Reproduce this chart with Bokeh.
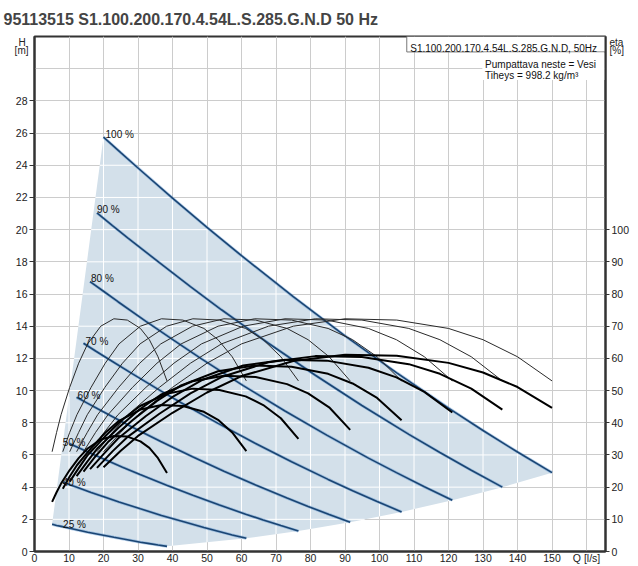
from bokeh.plotting import figure
from bokeh.models import Range1d, LinearAxis, FixedTicker, Label, ColumnDataSource
from bokeh.core.properties import value
from bokeh.embed import file_html
from bokeh.resources import INLINE

TITLE = "95113515 S1.100.200.170.4.54L.S.285.G.N.D 50 Hz"
BOX_TEXT = "S1.100.200.170.4.54L.S.285.G.N.D, 50Hz"
INFO_1 = "Pumpattava neste = Vesi"
INFO_2 = "Tiheys = 998.2 kg/m³"
SPEED_LABELS = ["25 %", "40 %", "50 %", "60 %", "70 %", "80 %", "90 %", "100 %"]

# flow Q [l/s] and head H [m] along each speed curve
Q_25 = [5.1, 6.4, 7.7, 10.2, 12.8, 15.4, 19.2, 23.0, 26.9, 30.7, 33.3, 35.8, 38.4]
H_25 = [1.69, 1.62, 1.56, 1.44, 1.32, 1.20, 1.04, 0.88, 0.73, 0.58, 0.49, 0.40, 0.32]
Q_40 = [8.2, 10.2, 12.3, 16.4, 20.5, 24.5, 30.7, 36.8, 43.0, 49.1, 53.2, 57.3, 61.4]
H_40 = [4.31, 4.15, 3.99, 3.67, 3.37, 3.07, 2.65, 2.24, 1.86, 1.49, 1.26, 1.03, 0.82]
Q_50 = [10.2, 12.8, 15.3, 20.4, 25.5, 30.6, 38.3, 45.9, 53.6, 61.2, 66.3, 71.4, 76.5]
H_50 = [6.70, 6.45, 6.20, 5.71, 5.24, 4.78, 4.12, 3.49, 2.89, 2.32, 1.96, 1.61, 1.27]
Q_60 = [12.2, 15.3, 18.3, 24.4, 30.5, 36.6, 45.8, 54.9, 64.1, 73.2, 79.3, 85.4, 91.5]
H_60 = [9.58, 9.22, 8.87, 8.17, 7.49, 6.84, 5.89, 4.99, 4.13, 3.32, 2.80, 2.30, 1.82]
Q_70 = [14.2, 17.7, 21.3, 28.4, 35.5, 42.5, 53.2, 63.8, 74.5, 85.1, 92.2, 99.3, 106.4]
H_70 = [12.94, 12.46, 11.98, 11.04, 10.12, 9.24, 7.96, 6.74, 5.58, 4.48, 3.78, 3.11, 2.46]
Q_80 = [16.1, 20.2, 24.2, 32.3, 40.4, 48.4, 60.5, 72.6, 84.7, 96.8, 104.9, 113.0, 121.1]
H_80 = [16.77, 16.14, 15.52, 14.30, 13.12, 11.97, 10.31, 8.73, 7.23, 5.80, 4.90, 4.02, 3.19]
Q_90 = [18.1, 22.6, 27.1, 36.2, 45.2, 54.2, 67.8, 81.4, 94.9, 108.5, 117.5, 126.6, 135.6]
H_90 = [21.04, 20.25, 19.47, 17.95, 16.46, 15.02, 12.94, 10.95, 9.07, 7.28, 6.15, 5.05, 4.00]
Q_100 = [20.0, 25.0, 30.0, 40.0, 50.0, 60.0, 75.0, 90.0, 105.0, 120.0, 130.0, 140.0, 150.0]
H_100 = [25.75, 24.78, 23.83, 21.96, 20.14, 18.38, 15.83, 13.40, 11.10, 8.91, 7.52, 6.18, 4.90]

# efficiency [%] at the same points: hydraulic (thin curves, equal for all speeds)
ETA_HYD = [31.0, 37.0, 42.5, 51.0, 58.5, 64.5, 70.0, 72.3, 71.9, 69.3, 65.8, 60.5, 53.0]
# total efficiency (thick curves), per speed
ETA_TOT_25 = [15.4, 18.4, 21.1, 25.3, 29.0, 32.0, 34.8, 35.9, 35.7, 34.2, 32.2, 29.0, 24.4]
ETA_TOT_40 = [19.5, 23.3, 26.8, 32.1, 36.9, 40.6, 44.1, 45.5, 45.2, 43.4, 40.9, 37.0, 31.2]
ETA_TOT_50 = [21.7, 25.9, 29.8, 35.7, 41.0, 45.2, 49.0, 50.6, 50.2, 48.2, 45.5, 41.4, 35.0]
ETA_TOT_60 = [23.4, 27.9, 32.1, 38.5, 44.2, 48.7, 52.9, 54.6, 54.2, 52.0, 49.1, 44.8, 37.8]
ETA_TOT_70 = [24.8, 29.6, 34.0, 40.8, 46.8, 51.6, 56.0, 57.8, 57.4, 55.2, 52.2, 47.7, 40.8]
ETA_TOT_80 = [25.6, 30.5, 35.1, 42.1, 48.3, 53.2, 57.8, 59.6, 59.3, 57.1, 54.1, 49.6, 43.2]
ETA_TOT_90 = [26.0, 31.1, 35.7, 42.8, 49.1, 54.2, 58.8, 60.7, 60.4, 58.2, 55.2, 50.6, 44.1]
ETA_TOT_100 = [26.2, 31.3, 35.9, 43.1, 49.4, 54.5, 59.2, 61.1, 60.8, 58.6, 55.6, 51.1, 44.6]

H_TICKS = list(range(0, 29, 2))
ETA_TICKS = list(range(0, 101, 10))
Q_TICKS = list(range(0, 161, 10))

Q_SERIES = [Q_25, Q_40, Q_50, Q_60, Q_70, Q_80, Q_90, Q_100]
H_SERIES = [H_25, H_40, H_50, H_60, H_70, H_80, H_90, H_100]
ETA_TOT = [ETA_TOT_25, ETA_TOT_40, ETA_TOT_50, ETA_TOT_60, ETA_TOT_70, ETA_TOT_80, ETA_TOT_90, ETA_TOT_100]

# layout / style
LABEL_DX = [11, 0, -7, 1, 2, 1, 0, 2]
LABEL_DY = [0, 0, -1, -2, -2, -3, -3, -3]
FONT = "Liberation Sans"
X_MAX, Y_MAX = 165.5, 32
UNIT_TOP, UNIT_BOTTOM = 31.65, 31.15   # vertical places of the axis unit captions

p = figure(width=638, height=566, x_range=Range1d(0, X_MAX), y_range=Range1d(0, Y_MAX),
           output_backend="svg", toolbar_location=None,
           min_border_left=34, min_border_right=33, min_border_top=35, min_border_bottom=13,
           background_fill_color="white", border_fill_color="white")
p.extra_y_ranges = {"eta": Range1d(0, 160)}

p.title.text = TITLE
p.title.text_font = FONT
p.title.text_font_size = "16px"
p.title.text_font_style = "bold"
p.title.align = "left"
p.title.offset = -31
p.title.standoff = 17

p.outline_line_color = "#333333"
p.outline_line_width = 2

p.xgrid.ticker = FixedTicker(ticks=Q_TICKS)
p.ygrid.ticker = FixedTicker(ticks=list(range(0, 33, 2)))
for g in (p.xgrid[0], p.ygrid[0]):
    g.grid_line_color = "#cccccc"
    g.grid_line_width = 1

xa = p.xaxis[0]
ya = p.yaxis[0]
ra = LinearAxis(y_range_name="eta")
p.add_layout(ra, "right")
xa.ticker = FixedTicker(ticks=Q_TICKS)
xa.major_label_overrides = {160: "Q [l/s]"}
ya.ticker = FixedTicker(ticks=H_TICKS)
ra.ticker = FixedTicker(ticks=ETA_TICKS)
for ax in (xa, ya, ra):
    ax.axis_line_color = "#333333"
    ax.axis_line_width = 2
    ax.major_tick_line_color = "#333333"
    ax.minor_tick_line_color = None
    ax.major_tick_in = 0
    ax.major_label_text_font = FONT
    ax.major_label_text_font_size = "10.5px"
    ax.major_label_text_color = "#222222"
xa.major_tick_out = 0
xa.major_label_standoff = 0
ya.major_tick_out = 5
ya.major_label_standoff = 2
ra.major_tick_out = 4
ra.major_label_standoff = 2

# unit captions "H [m]" and "eta [%]" as tick-less caption axes
cap_l = LinearAxis(ticker=FixedTicker(ticks=[UNIT_TOP, UNIT_BOTTOM]),
                   major_label_overrides={UNIT_TOP: "H\u00a0", UNIT_BOTTOM: "[m]"})
cap_r = LinearAxis(ticker=FixedTicker(ticks=[UNIT_TOP, UNIT_BOTTOM]),
                   major_label_overrides={UNIT_TOP: "eta", UNIT_BOTTOM: "[%]"})
p.add_layout(cap_l, "left")
p.add_layout(cap_r, "right")
for ax in (cap_l, cap_r):
    ax.axis_line_color = None
    ax.major_tick_line_color = None
    ax.minor_tick_line_color = None
    ax.major_tick_in = 0
    ax.major_tick_out = 0
    ax.major_label_text_font = FONT
    ax.major_label_text_font_size = "10px"
    ax.major_label_text_color = "#222222"
cap_l.major_label_standoff = -16
cap_r.major_label_standoff = -23

# operating area polygon (between 25 % and 100 % curves)
poly = list(zip(Q_100, H_100))
poly += [(q[-1], h[-1]) for q, h in zip(Q_SERIES[-2::-1], H_SERIES[-2::-1])]
poly += list(zip(Q_25[::-1], H_25[::-1]))[1:]
p.patch([a for a, b in poly], [b for a, b in poly], fill_color="#d3e0ea", line_color=None)


def crossings(poly, c, vertical):
    vals = []
    n = len(poly)
    for i in range(n):
        (x1, y1), (x2, y2) = poly[i], poly[(i + 1) % n]
        if not vertical:
            x1, y1, x2, y2 = y1, x1, y2, x2
        if (x1 <= c < x2) or (x2 <= c < x1):
            vals.append(y1 + (y2 - y1) * (c - x1) / (x2 - x1))
    vals.sort()
    return [(vals[k], vals[k + 1]) for k in range(0, len(vals) - 1, 2)]


sx0, sy0, sx1, sy1 = [], [], [], []
for c in Q_TICKS[1:]:
    for a, b in crossings(poly, c, True):
        sx0.append(c); sx1.append(c); sy0.append(a); sy1.append(b)
for c in range(2, 32, 2):
    for a, b in crossings(poly, c, False):
        sx0.append(a); sx1.append(b); sy0.append(c); sy1.append(c)
p.segment(x0=sx0, y0=sy0, x1=sx1, y1=sy1, line_color="white", line_width=1)

# speed curves
for q, h in zip(Q_SERIES, H_SERIES):
    p.line(q, h, line_color="#5a93cf", line_width=3, line_alpha=0.45)
    p.line(q, h, line_color="#1a4573", line_width=1.6)

# efficiency curves
for q in Q_SERIES:
    p.line(q, ETA_HYD, y_range_name="eta", line_color="#2a2a2a", line_width=1)
for q, e in zip(Q_SERIES, ETA_TOT):
    p.line(q, e, y_range_name="eta", line_color="black", line_width=2)

lab_src = ColumnDataSource(dict(x=[q[0] for q in Q_SERIES], y=[h[0] for h in H_SERIES],
                                t=SPEED_LABELS, dx=LABEL_DX, dy=LABEL_DY))
p.text(x="x", y="y", text="t", x_offset="dx", y_offset="dy", source=lab_src,
       text_font=value(FONT), text_font_size=value("10px"), text_color="#111111",
       text_baseline="alphabetic", text_align="left")

# info box top right
p.quad(left=[107.9], right=[X_MAX], bottom=[31.04], top=[Y_MAX], fill_color="white",
       line_color="#777777", line_width=1)
p.quad(left=[129.8], right=[X_MAX - 0.2], bottom=[29.3], top=[31.0], fill_color="white",
       line_color=None)


def lab(x, y, text, align="left", size="10px"):
    p.add_layout(Label(x=x, y=y, text=text, text_font=FONT, text_font_size=size,
                       text_align=align, text_baseline="alphabetic", text_color="#111111"))


lab(108.9, 31.25, BOX_TEXT)
lab(130.6, 30.25, INFO_1)
lab(130.6, 29.57, INFO_2)

open("out.html", "w").write(file_html(p, INLINE))
